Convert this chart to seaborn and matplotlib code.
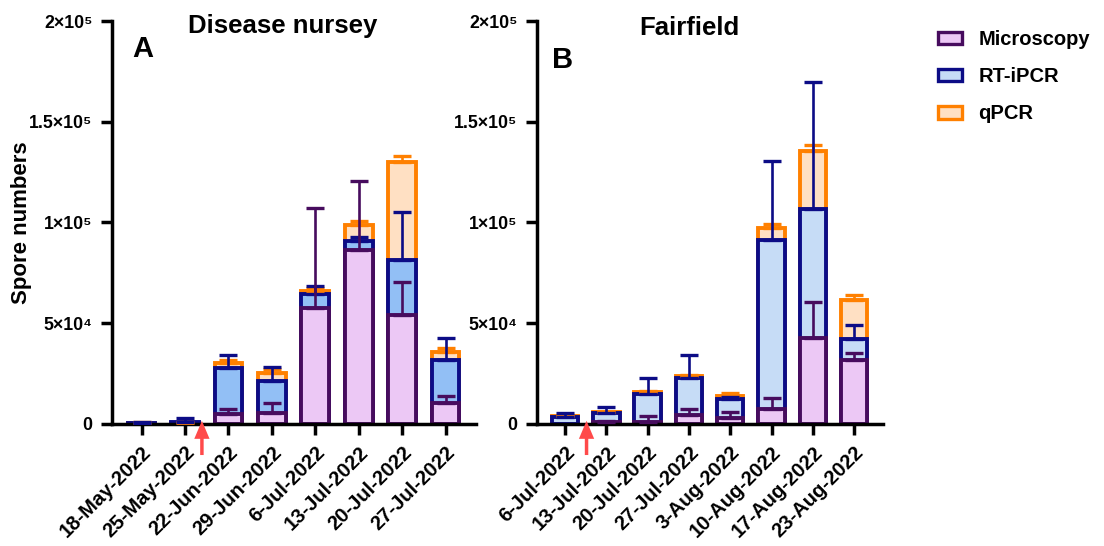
import numpy as np
import matplotlib
matplotlib.use("Agg")
import matplotlib.pyplot as plt
from matplotlib.patches import Patch
import seaborn as sns

# ---------------- data ----------------
dates_a = ['18-May-2022', '25-May-2022', '22-Jun-2022', '29-Jun-2022',
           '6-Jul-2022', '13-Jul-2022', '20-Jul-2022', '27-Jul-2022']
micro_a = [np.nan, np.nan, 4800, 5600, 57500, 86600, 53900, 10300]
micro_err_a = [0, 0, 2500, 5000, 49500, 33900, 16600, 3800]
rt_a = [600, 1000, 28000, 21400, 64700, 91000, 81200, 31800]
rt_err_a = [600, 2100, 6300, 7100, 4000, 1700, 24100, 10800]
qpcr_a = [600, 500, 30500, 25200, 66200, 98900, 130000, 35500]
qpcr_err_a = [300, 300, 1200, 2000, 1200, 1700, 3000, 2100]

dates_b = ['6-Jul-2022', '13-Jul-2022', '20-Jul-2022', '27-Jul-2022',
           '3-Aug-2022', '10-Aug-2022', '17-Aug-2022', '23-Aug-2022']
micro_b = [np.nan, 1100, 800, 4400, 2800, 7300, 42800, 31900]
micro_err_b = [0, 300, 3200, 2900, 3300, 5400, 17600, 3300]
rt_b = [3600, 5300, 15100, 22900, 12200, 91500, 106800, 42100]
rt_err_b = [1700, 2900, 7500, 11100, 1300, 39200, 63100, 6800]
qpcr_b = [3900, 5800, 16000, 23700, 13800, 97400, 135300, 61700]
qpcr_err_b = [400, 400, 500, 500, 1400, 2000, 3000, 2500]

titles = ['Disease nursey', 'Fairfield']
letters = ['A', 'B']
series_names = ['Microscopy', 'RT-iPCR', 'qPCR']
yticks = [0, 50000, 100000, 150000, 200000]
ytick_labels = ['0', '5×10⁴', '1×10⁵', '1.5×10⁵', '2×10⁵']
arrow_x = [1.39, 0.52]

# ---------------- style ----------------
sns.set_theme(style='ticks')
plt.rcParams['font.family'] = ['Liberation Sans', 'DejaVu Sans']
plt.rcParams['font.weight'] = 'bold'
for k in ['text.color', 'axes.labelcolor', 'xtick.color', 'ytick.color',
          'axes.edgecolor']:
    plt.rcParams[k] = 'black'

micro_edge, micro_fill = '#470C5E', '#ECC8F5'
rt_edge = '#0C0C86'
rt_fill = ['#92BFF5', '#C6DCF6']
q_edge, q_fill = '#FF8000', '#FFE0C3'
arrow_col = '#FF4A4A'

fig = plt.figure(figsize=(11.04, 5.46), dpi=100)
axA = fig.add_axes([112/1104, 1-424/546, (476-112)/1104, (424-21)/546])
axB = fig.add_axes([537/1104, 1-424/546, (883-537)/1104, (424-21)/546])

panels = [
    (axA, dates_a, micro_a, micro_err_a, rt_a, rt_err_a, qpcr_a, qpcr_err_a),
    (axB, dates_b, micro_b, micro_err_b, rt_b, rt_err_b, qpcr_b, qpcr_err_b),
]

lw = 2.8
for i, (ax, dates, mi, mie, rt, rte, qp, qpe) in enumerate(panels):
    xs = np.arange(len(dates))
    layers = [
        (qp, qpe, q_edge, q_fill, q_edge),
        (rt, rte, rt_edge, rt_fill[i], rt_edge),
        (mi, mie, micro_edge, micro_fill, micro_edge),
    ]
    for vals, errs, ec, fc, errc in layers:
        vals = np.asarray(vals, dtype=float)
        sns.barplot(x=dates, y=vals, ax=ax, color=fc, saturation=1,
                    edgecolor=ec, linewidth=lw, width=0.64, errorbar=None,
                    order=dates)
        ok = ~np.isnan(vals)
        ax.errorbar(xs[ok], vals[ok],
                    yerr=[np.zeros(ok.sum()), np.asarray(errs)[ok]],
                    fmt='none', ecolor=errc, elinewidth=1.9, capsize=6.8,
                    capthick=2.4, zorder=5)
    ax.set_xlim(-0.68, len(dates) - 0.3)
    ax.set_ylim(0, 200000)
    ax.set_yticks(yticks)
    ax.set_yticklabels(ytick_labels, fontsize=12.8, fontweight='bold')
    ax.set_xticks(xs)
    ax.set_xticklabels(dates, rotation=45, ha='right', rotation_mode='anchor',
                       fontsize=14.6, fontweight='bold')
    ax.set_xlabel('')
    ax.set_ylabel('')
    for s in ['top', 'right']:
        ax.spines[s].set_visible(False)
    for s in ['left', 'bottom']:
        ax.spines[s].set_linewidth(2.5)
        ax.spines[s].set_color('black')
    ax.tick_params(axis='both', width=2.5, length=8, color='black')
    ax.tick_params(axis='y', pad=6)
    ax.tick_params(axis='x', pad=5.5)
    ax.patch.set_alpha(0)
    ax.annotate('', xy=(arrow_x[i], 0.008), xytext=(arrow_x[i], -0.077),
                xycoords=('data', 'axes fraction'),
                textcoords=('data', 'axes fraction'),
                arrowprops=dict(facecolor=arrow_col, edgecolor='none',
                                width=2.5, headwidth=11, headlength=13),
                annotation_clip=False)

axA.set_ylabel('Spore numbers', fontsize=16, fontweight='bold')
axA.yaxis.set_label_coords((32-112)/364, 0.5)

fig.text(283/1104, 1-33/546, titles[0], fontsize=18.5, fontweight='bold',
         ha='center', va='baseline')
fig.text(689/1104, 1-35/546, titles[1], fontsize=18.5, fontweight='bold',
         ha='center', va='baseline')
fig.text(143/1104, 1-57/546, letters[0], fontsize=21, fontweight='bold',
         ha='center', va='baseline')
fig.text(563/1104, 1-68/546, letters[1], fontsize=21, fontweight='bold',
         ha='center', va='baseline')

handles = [
    Patch(facecolor=micro_fill, edgecolor=micro_edge, linewidth=2.4),
    Patch(facecolor=rt_fill[1], edgecolor=rt_edge, linewidth=2.4),
    Patch(facecolor=q_fill, edgecolor=q_edge, linewidth=2.4),
]
fig.legend(handles, series_names, loc='upper left',
           bbox_to_anchor=(938/1104, 1-30/546), frameon=False,
           prop={'size': 14.5, 'weight': 'bold'}, handlelength=1.2,
           handleheight=0.6, handletextpad=0.8, labelspacing=0.9,
           borderpad=0, borderaxespad=0)

fig.savefig('out.png', dpi=100)
